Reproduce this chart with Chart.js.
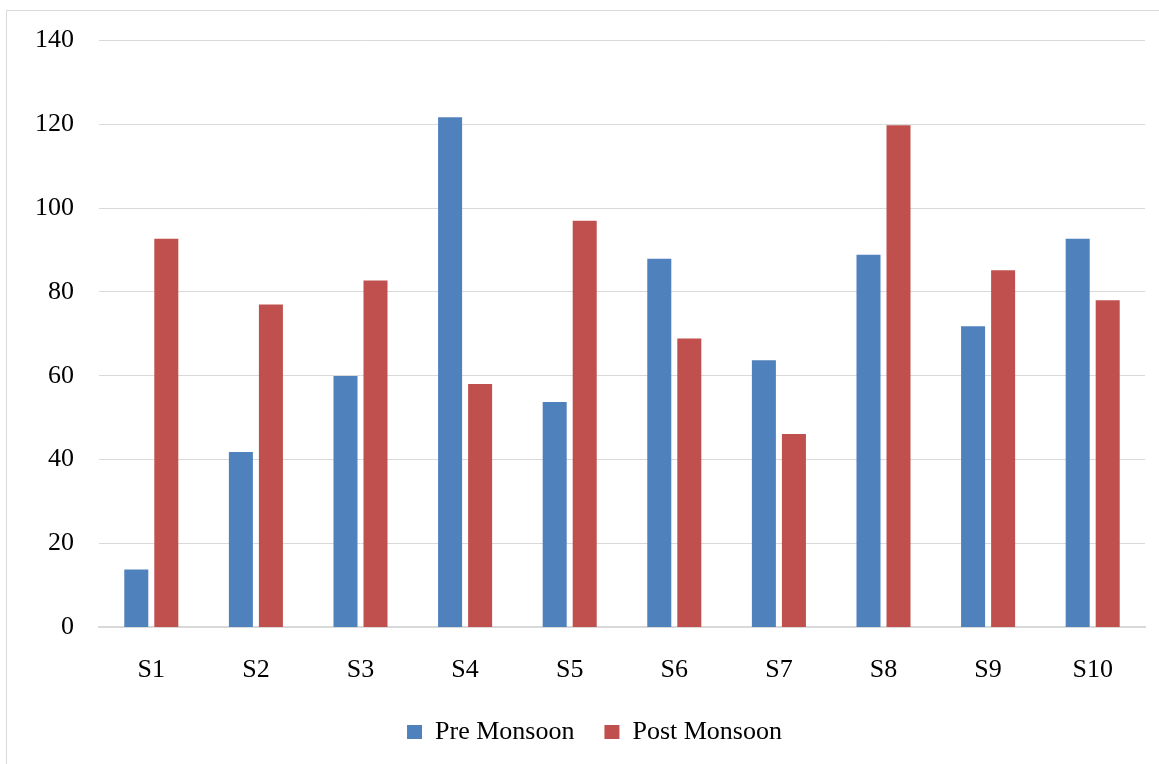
<!DOCTYPE html>
<html>
<head>
<meta charset="utf-8">
<script src="https://cdn.jsdelivr.net/npm/chart.js@4/dist/chart.umd.min.js"></script>
<style>
  html, body { margin: 0; padding: 0; background: #fff; overflow: hidden; }
  #frame { position: absolute; left: 6px; top: 10px; width: 1200px; height: 800px; border: 1px solid #d9d9d9; }
  #wrap { position: absolute; left: 0; top: 0; width: 1159px; height: 764px; }
</style>
</head>
<body>
<div id="frame"></div>
<div id="wrap"><canvas id="chart" width="1159" height="764"></canvas></div>
<script>
const sites = ['S1', 'S2', 'S3', 'S4', 'S5', 'S6', 'S7', 'S8', 'S9', 'S10'];
const preMonsoon = [13.7, 41.8, 59.9, 121.7, 53.7, 87.9, 63.7, 88.9, 71.8, 92.7];
const postMonsoon = [92.7, 77, 82.7, 58, 97, 68.9, 46.1, 119.8, 85.2, 78];

Chart.defaults.color = '#000';
Chart.defaults.font.family = '"Liberation Serif", "Times New Roman", serif';
Chart.defaults.font.size = 26;

// nudge the legend a little to the right of the canvas centre
const legendShift = {
    id: 'legendShift',
    afterLayout(chart) {
        if (chart.legend) {
            chart.legend.left += 22;
            chart.legend.right += 22;
        }
    }
};

const ctx = document.getElementById('chart').getContext('2d');
new Chart(ctx, {
    type: 'bar',
    data: {
        labels: sites,
        datasets: [{
            label: 'Pre Monsoon',
            data: preMonsoon,
            backgroundColor: '#4F81BD',
            barPercentage: 0.8,
            categoryPercentage: 0.574
        }, {
            label: 'Post Monsoon',
            data: postMonsoon,
            backgroundColor: '#C0504D',
            barPercentage: 0.8,
            categoryPercentage: 0.574
        }]
    },
    options: {
        responsive: false,
        animation: false,
        layout: {
            padding: { left: 0, right: 14, top: 38, bottom: 9 }
        },
        scales: {
            x: {
                grid: { display: false, drawTicks: false },
                border: { color: '#d9d9d9', width: 2 },
                ticks: { padding: 28 },
                afterFit: function (scale) { scale.height = 62; }
            },
            y: {
                min: 0,
                max: 140,
                ticks: { stepSize: 20, padding: 25 },
                grid: {
                    color: '#d9d9d9',
                    lineWidth: c => (c.tick && c.tick.value === 0 ? 0 : 1),
                    drawTicks: false
                },
                border: { display: false },
                afterFit: function (scale) { scale.width = 99; }
            }
        },
        plugins: {
            legend: {
                position: 'bottom',
                labels: {
                    boxWidth: 15,
                    boxHeight: 14,
                    padding: 30,
                    font: { size: 26 }
                }
            },
            tooltip: { enabled: false }
        }
    },
    plugins: [legendShift]
});
</script>
</body>
</html>
